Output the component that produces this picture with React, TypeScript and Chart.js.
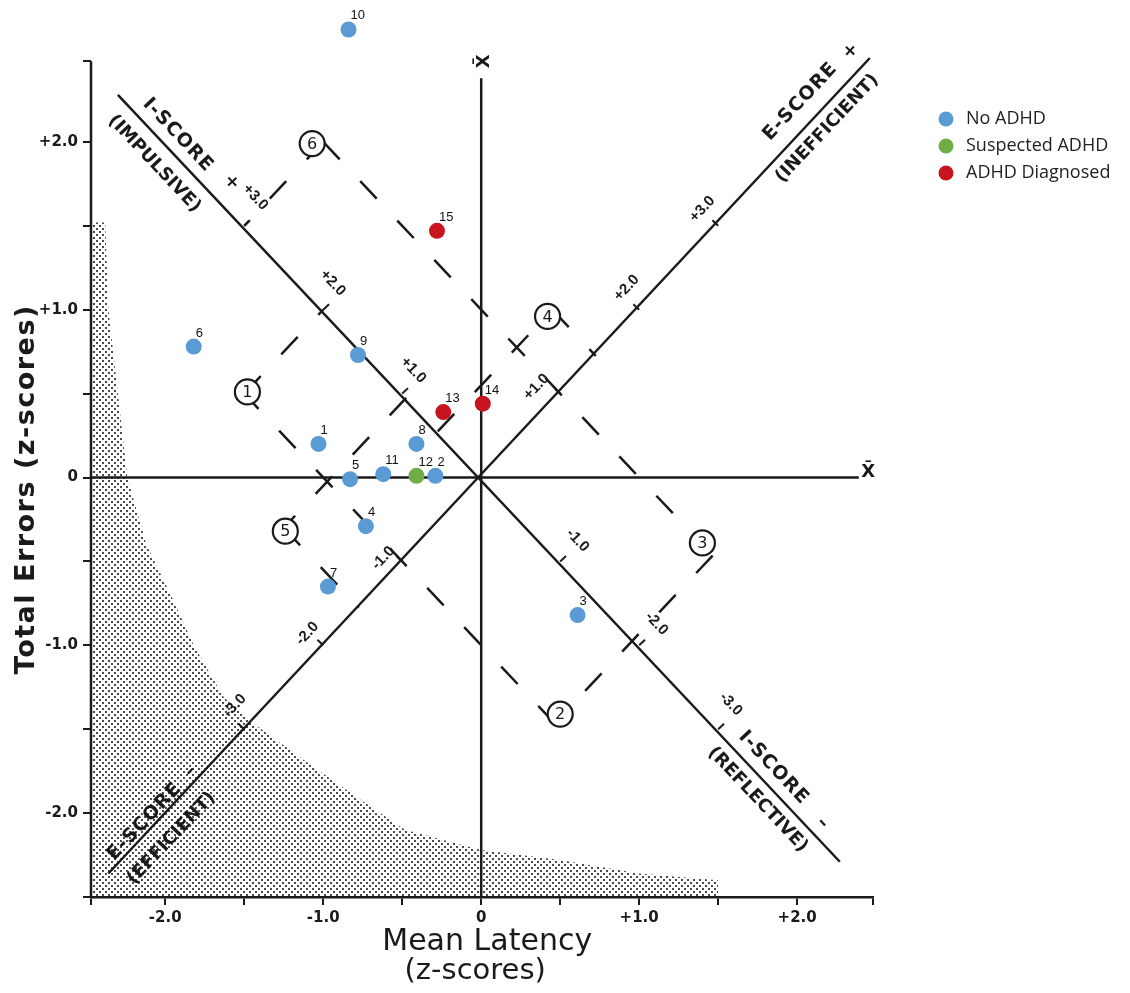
import React, { useEffect, useRef } from 'react';
import { Chart, registerables } from 'chart.js';

Chart.register(...registerables);

// ---------- subjects ----------
const subjectIds = ['1', '2', '3', '4', '5', '6', '7', '8', '9', '10', '11', '12', '13', '14', '15'];
const meanLatencyZ = [-1.03, -0.29, 0.61, -0.73, -0.83, -1.82, -0.97, -0.41, -0.78, -0.84, -0.62, -0.41, -0.24, 0.01, -0.28];
const totalErrorsZ = [0.2, 0.01, -0.82, -0.29, -0.01, 0.78, -0.65, 0.2, 0.73, 2.67, 0.02, 0.01, 0.39, 0.44, 1.47];
const subjectGroup = [0, 0, 0, 0, 0, 0, 0, 0, 0, 0, 0, 1, 2, 2, 2];
const groupNames = ['No ADHD', 'Suspected ADHD', 'ADHD Diagnosed'];
const groupColors = ['#5B9BD5', '#70AD47', '#C8141E'];

// ---------- axes ----------
const xRange = [-2.47, 2.48];
const yRange = [-2.5, 2.798];
const yAxisTop = 2.48;
const xTickValues = [-2.47, -2, -1.5, -1, -0.5, 0, 0.5, 1, 1.5, 2, 2.48];
const yTickValues = [-2.5, -2, -1.5, -1, -0.5, 0, 0.5, 1, 1.5, 2, 2.48];
const yAxisTitle = 'Total Errors (z-scores)';
const xAxisTitle = ['Mean Latency', '(z-scores)'];

// ---------- solid reference lines (left axis, mean axes, E-score and I-score axes) ----------
const refLineX = [[xRange[0], xRange[0]], [-2.47, 2.39], [0, 0], [-2.36, 2.46], [-2.3, 2.27]];
const refLineY = [[yRange[0], yAxisTop], [0, 0], [-2.5, 2.38], [-2.36, 2.5], [2.28, -2.29]];

// ---------- dashed region boundaries ----------
const dashX = [[-1.0, 1.465], [1.465, 0.465], [0.465, -1.5], [-1.5, -1.0], [-1.0, -1.5], [-0.275, 0.45], [0.45, 0.725], [-0.475, -1.25], [-1.25, -0.775]];
const dashY = [[2.0, -0.465], [-0.465, -1.465], [-1.465, 0.5], [0.5, 1.0], [2.0, 1.5], [0.275, 1.0], [1.0, 0.725], [0.475, -0.3], [-0.3, -0.775]];

// region numbers (circled)
const regionNums = ['1', '2', '3', '4', '5', '6'];
const regionX = [-1.48, 0.5, 1.4, 0.42, -1.24, -1.07];
const regionY = [0.51, -1.41, -0.39, 0.96, -0.32, 1.99];

// ---------- stippled (shaded) area boundary ----------
const shadeLatency = [-2.47, -2.38, -2.36, -2.3, -2.24, -2.12, -1.95, -1.82, -1.63, -1.45, -1.07, -0.75, -0.48, 0.0, 0.5, 1.0, 1.5];
const shadeErrors = [1.52, 1.52, 1.0, 0.5, 0.0, -0.4, -0.73, -1.0, -1.31, -1.46, -1.72, -1.93, -2.1, -2.22, -2.28, -2.36, -2.4];

// ---------- diagonal axis ticks / labels ----------
const diagTickScores = [-3, -2, -1, 1, 2, 3];
const iTickLabels = ['+3.0', '+2.0', '+1.0', '-1.0', '-2.0', '-3.0'];
const iTickLabelX = [-1.43, -0.94, -0.43, 0.61, 1.11, 1.58];
const iTickLabelY = [1.67, 1.16, 0.64, -0.375, -0.87, -1.35];
const eTickLabels = ['+1.0', '+2.0', '+3.0', '-1.0', '-2.0', '-3.0'];
const eTickLabelX = [0.35, 0.92, 1.4, -0.62, -1.1, -1.56];
const eTickLabelY = [0.54, 1.13, 1.6, -0.48, -0.93, -1.36];

const axisNameTexts = ['I-SCORE', '+', '(IMPULSIVE)', 'E-SCORE', '+', '(INEFFICIENT)', 'E-SCORE', '\u2013', '(EFFICIENT)', 'I-SCORE', '\u2013', '(REFLECTIVE)'];
const axisNameX = [-1.92, -1.58, -2.07, 2.02, 2.34, 2.19, -2.13, -1.84, -1.96, 1.85, 2.16, 1.75];
const axisNameY = [2.04, 1.76, 1.87, 2.24, 2.54, 2.08, -2.05, -1.75, -2.15, -1.73, -2.06, -1.92];
const axisNameOnI = [true, true, true, false, false, false, false, false, false, true, true, true];

const meanMarkText = 'X\u0304';
const meanMarkX = [2.45, 0.02];
const meanMarkY = [0.03, 2.48];

const INK = '#1a1a1a';

function fmtTick(v: number): string {
  if (Math.abs(v - Math.round(v)) > 1e-6) return '';
  if (Math.abs(v) < 1e-6) return '0';
  return (v > 0 ? '+' : '-') + Math.abs(v).toFixed(1);
}

const overlayPlugin = {
  id: 'overlay',
  afterDatasetsDraw(chart: any) {
    const ctx: CanvasRenderingContext2D = chart.ctx;
    const sx = chart.scales.x;
    const sy = chart.scales.y;
    const X = (v: number) => sx.getPixelForValue(v);
    const Y = (v: number) => sy.getPixelForValue(v);
    const unit = (a: number, b: number) => {
      const l = Math.hypot(a, b);
      return [a / l, b / l];
    };
    const dirI = unit(X(1) - X(0), Y(-1) - Y(0));
    const dirE = unit(X(1) - X(0), Y(1) - Y(0));
    const angI = Math.atan2(dirI[1], dirI[0]);
    const angE = Math.atan2(dirE[1], dirE[0]);

    ctx.save();
    // diagonal tick marks
    ctx.strokeStyle = INK;
    ctx.lineWidth = 2;
    diagTickScores.forEach((k) => {
      const pts: [number, number, number[]][] = [
        [-k / 2, k / 2, dirI],
        [k / 2, k / 2, dirE],
      ];
      pts.forEach(([dx, dy, d]) => {
        const bx = X(dx);
        const by = Y(dy);
        ctx.beginPath();
        ctx.moveTo(bx, by);
        ctx.lineTo(bx + d[1] * 8, by - d[0] * 8);
        ctx.stroke();
      });
    });

    const txt = (s: string, x: number, y: number, ang: number, font: string, spacing = '0px') => {
      ctx.save();
      ctx.translate(x, y);
      ctx.rotate(ang);
      ctx.font = font;
      (ctx as any).letterSpacing = spacing;
      ctx.textAlign = 'center';
      ctx.textBaseline = 'middle';
      ctx.fillStyle = INK;
      ctx.fillText(s, 0, 0);
      ctx.restore();
    };

    // diagonal tick labels
    iTickLabels.forEach((s, i) => txt(s, X(iTickLabelX[i]), Y(iTickLabelY[i]), angI, 'bold 15px "Liberation Sans"'));
    eTickLabels.forEach((s, i) => txt(s, X(eTickLabelX[i]), Y(eTickLabelY[i]), angE, 'bold 15px "Liberation Sans"'));

    // axis names
    axisNameTexts.forEach((s, i) => {
      const big = s.indexOf('SCORE') >= 0;
      txt(s, X(axisNameX[i]), Y(axisNameY[i]), axisNameOnI[i] ? angI : angE, big ? 'bold 19px "DejaVu Sans"' : 'bold 18px "DejaVu Sans"', big ? '1px' : '0px');
    });

    // mean marks
    txt(meanMarkText, X(meanMarkX[0]), Y(meanMarkY[0]), 0, 'bold 18px "DejaVu Sans"');
    txt(meanMarkText, X(meanMarkX[1]), Y(meanMarkY[1]), -Math.PI / 2, 'bold 18px "DejaVu Sans"');

    // circled region numbers
    regionNums.forEach((s, i) => {
      const cx = X(regionX[i]);
      const cy = Y(regionY[i]);
      ctx.beginPath();
      ctx.arc(cx, cy, 12.5, 0, Math.PI * 2);
      ctx.fillStyle = '#ffffff';
      ctx.fill();
      ctx.lineWidth = 2.2;
      ctx.strokeStyle = INK;
      ctx.stroke();
      txt(s, cx, cy + 1, 0, '16px "DejaVu Sans"');
    });

    // subject numbers
    ctx.font = '13px "Liberation Sans"';
    ctx.fillStyle = '#111';
    ctx.textAlign = 'left';
    ctx.textBaseline = 'alphabetic';
    chart.data.datasets.forEach((ds: any, di: number) => {
      if (!ds.ids) return;
      const meta = chart.getDatasetMeta(di);
      meta.data.forEach((el: any, j: number) => {
        ctx.fillText(ds.ids[j], el.x + 2, el.y - 10);
      });
    });

    // axis titles
    txt(yAxisTitle, 27, (Y(yRange[0]) + Y(yAxisTop)) / 2 + 10, -Math.PI / 2, 'bold 27px "DejaVu Sans"', '1.5px');
    txt(xAxisTitle[0], X(0) + 6, 942, 0, '30px "DejaVu Sans"');
    txt(xAxisTitle[1], X(0) - 6, 971, 0, '29px "DejaVu Sans"');

    // legend
    groupNames.forEach((name, g) => {
      const ly = 119 + g * 27;
      ctx.beginPath();
      ctx.arc(946, ly, 7.5, 0, Math.PI * 2);
      ctx.fillStyle = groupColors[g];
      ctx.fill();
      ctx.font = '18px "Open Sans"';
      ctx.fillStyle = '#222';
      ctx.textAlign = 'left';
      ctx.textBaseline = 'middle';
      ctx.fillText(name, 966, ly);
    });
    ctx.restore();
  },
};

export default function App() {
  const ref = useRef<HTMLCanvasElement>(null);

  useEffect(() => {
    const canvas = ref.current;
    if (!canvas) return;
    const ctx = canvas.getContext('2d')!;

    const tile = document.createElement('canvas');
    tile.width = 6;
    tile.height = 6;
    const t = tile.getContext('2d')!;
    t.fillStyle = '#4a4a4a';
    t.fillRect(0, 0, 2, 2);
    t.fillRect(3, 3, 2, 2);
    const stipple = ctx.createPattern(tile, 'repeat');

    const datasets: any[] = [];
    groupNames.forEach((name, g) => {
      const idx = subjectIds.map((_, i) => i).filter((i) => subjectGroup[i] === g);
      datasets.push({
        type: 'scatter',
        label: name,
        ids: idx.map((i) => subjectIds[i]),
        data: idx.map((i) => ({ x: meanLatencyZ[i], y: totalErrorsZ[i] })),
        backgroundColor: groupColors[g],
        borderWidth: 0,
        pointRadius: 8,
        pointHoverRadius: 8,
        clip: false,
        order: 0,
      });
    });
    refLineX.forEach((xs, i) => {
      datasets.push({
        type: 'line',
        label: 'ref' + i,
        data: xs.map((x, j) => ({ x, y: refLineY[i][j] })),
        borderColor: INK,
        borderWidth: 2.5,
        pointRadius: 0,
        fill: false,
        clip: false,
        order: 5,
      });
    });
    dashX.forEach((xs, i) => {
      datasets.push({
        type: 'line',
        label: 'dash' + i,
        data: xs.map((x, j) => ({ x, y: dashY[i][j] })),
        borderColor: INK,
        borderWidth: 2.5,
        borderDash: [24, 30],
        pointRadius: 0,
        fill: false,
        clip: false,
        order: 6,
      });
    });
    datasets.push({
      type: 'line',
      label: 'shade',
      data: shadeLatency.map((x, j) => ({ x, y: shadeErrors[j] })),
      borderWidth: 0,
      borderColor: 'rgba(0,0,0,0)',
      backgroundColor: stipple,
      fill: 'start',
      pointRadius: 0,
      order: 10,
    });

    const tickFont = { family: 'DejaVu Sans', size: 15, weight: 'bold' as const };

    const chart = new Chart(canvas, {
      type: 'scatter',
      data: { datasets },
      options: {
        animation: false,
        responsive: false,
        maintainAspectRatio: false,
        events: [],
        layout: { padding: { top: 3, right: 257, left: 0, bottom: 0 } },
        plugins: { legend: { display: false }, tooltip: { enabled: false } },
        scales: {
          x: {
            type: 'linear',
            min: xRange[0],
            max: xRange[1],
            afterFit: (s: any) => {
              s.height = 96;
              s.paddingLeft = 0;
              s.paddingRight = 0;
            },
            afterBuildTicks: (s: any) => {
              s.ticks = xTickValues.map((v) => ({ value: v }));
            },
            ticks: { callback: (v: any) => fmtTick(Number(v)), font: tickFont, color: INK, padding: 4, autoSkip: false, maxRotation: 0 },
            grid: { drawOnChartArea: false, drawTicks: true, tickLength: 8, color: INK, lineWidth: 2 },
            border: { display: true, color: INK, width: 2.5 },
          },
          y: {
            type: 'linear',
            min: yRange[0],
            max: yRange[1],
            afterFit: (s: any) => {
              s.width = 91;
              s.paddingTop = 0;
              s.paddingBottom = 0;
            },
            afterBuildTicks: (s: any) => {
              s.ticks = yTickValues.map((v) => ({ value: v }));
            },
            ticks: { callback: (v: any) => fmtTick(Number(v)), font: tickFont, color: INK, padding: 5, autoSkip: false },
            grid: { drawOnChartArea: false, drawTicks: true, tickLength: 8, color: INK, lineWidth: 2 },
            border: { display: false },
          },
        },
      } as any,
      plugins: [overlayPlugin],
    });

    return () => chart.destroy();
  }, []);

  return (
    <div style={{ position: 'fixed', left: 0, top: 0, width: 1130, height: 993, background: '#ffffff' }}>
      <canvas ref={ref} width={1130} height={993} />
    </div>
  );
}
